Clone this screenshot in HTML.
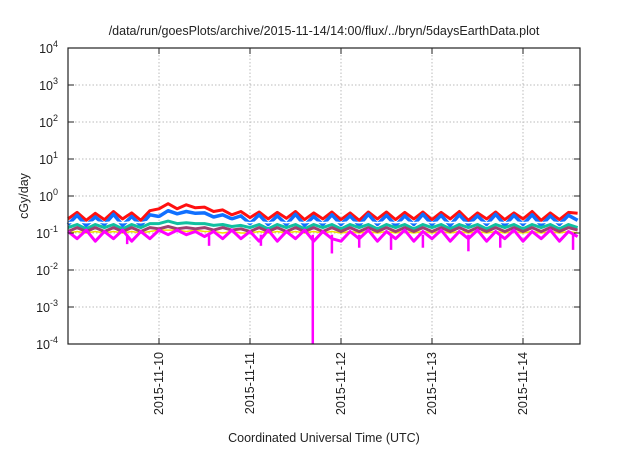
<!DOCTYPE html>
<html><head><meta charset="utf-8"><style>
body{margin:0;background:#fff;}
svg text{font-family:"Liberation Sans",sans-serif;fill:#222;}
</style></head><body>
<svg id="chart" width="640" height="448" viewBox="0 0 640 448" xmlns="http://www.w3.org/2000/svg">
<text x="324" y="35" font-size="12.5" text-anchor="middle">/data/run/goesPlots/archive/2015-11-14/14:00/flux/../bryn/5daysEarthData.plot</text>
<g id="grid"></g>
<g id="series"></g>
<rect x="68" y="48" width="512" height="296" fill="none" stroke="#222" stroke-width="1.2"/>
<g id="axes"></g>
<text transform="translate(28,196) rotate(-90)" font-size="12.5" text-anchor="middle">cGy/day</text>
<text x="324" y="442" font-size="12.5" text-anchor="middle">Coordinated Universal Time (UTC)</text>
</svg>
<script>
const xTickLabels=["2015-11-10","2015-11-11","2015-11-12","2015-11-13","2015-11-14"];
const xTickDays=[1,2,3,4,5];
const yTickExps=[-4,-3,-2,-1,0,1,2,3,4];
const sampleStep=0.1;
const red=[0.24,0.36,0.22,0.34,0.23,0.38,0.24,0.35,0.22,0.40,0.45,0.62,0.45,0.58,0.48,0.50,0.38,0.42,0.31,0.38,0.26,0.37,0.24,0.36,0.25,0.38,0.23,0.35,0.24,0.37,0.23,0.35,0.22,0.37,0.24,0.37,0.23,0.36,0.24,0.37,0.23,0.36,0.24,0.38,0.22,0.35,0.24,0.37,0.23,0.35,0.24,0.38,0.22,0.35,0.23,0.36,0.34];
const blue=[0.17,0.30,0.16,0.27,0.17,0.32,0.16,0.28,0.16,0.31,0.28,0.40,0.33,0.38,0.34,0.35,0.27,0.31,0.24,0.29,0.18,0.31,0.17,0.29,0.17,0.32,0.16,0.28,0.17,0.31,0.17,0.29,0.16,0.32,0.17,0.30,0.16,0.29,0.17,0.32,0.17,0.30,0.16,0.31,0.17,0.29,0.17,0.32,0.16,0.30,0.17,0.31,0.16,0.29,0.17,0.30,0.22];
const white=[0.19,0.20,0.19,0.20,0.19,0.20,0.19,0.20,0.19,0.21,0.24,0.28,0.27,0.26,0.26,0.24,0.23,0.22,0.21,0.20,0.19,0.20,0.19,0.20,0.19,0.20,0.19,0.20,0.19,0.20,0.19,0.20,0.19,0.20,0.19,0.20,0.19,0.20,0.19,0.20,0.19,0.20,0.19,0.20,0.19,0.20,0.19,0.20,0.19,0.20,0.19,0.20,0.19,0.20,0.19,0.20,0.19];
const green=[0.14,0.17,0.13,0.17,0.14,0.17,0.13,0.17,0.14,0.18,0.18,0.21,0.18,0.19,0.18,0.18,0.16,0.17,0.15,0.16,0.14,0.17,0.13,0.17,0.14,0.17,0.13,0.17,0.14,0.17,0.13,0.17,0.14,0.17,0.13,0.17,0.14,0.17,0.13,0.17,0.14,0.17,0.13,0.17,0.14,0.17,0.13,0.17,0.14,0.17,0.13,0.17,0.14,0.17,0.13,0.17,0.14];
const yellow=[0.10,0.11,0.10,0.11,0.10,0.11,0.10,0.11,0.10,0.11,0.12,0.12,0.12,0.11,0.12,0.11,0.11,0.10,0.11,0.10,0.10,0.11,0.10,0.11,0.10,0.11,0.10,0.11,0.10,0.11,0.10,0.11,0.10,0.11,0.10,0.11,0.10,0.11,0.10,0.11,0.10,0.11,0.10,0.11,0.10,0.11,0.10,0.11,0.10,0.11,0.10,0.11,0.10,0.11,0.10,0.11,0.10];
const maroon=[0.11,0.14,0.11,0.14,0.11,0.14,0.11,0.14,0.11,0.14,0.13,0.15,0.13,0.14,0.13,0.14,0.12,0.14,0.12,0.13,0.11,0.14,0.11,0.14,0.11,0.14,0.11,0.14,0.11,0.14,0.11,0.14,0.11,0.14,0.11,0.14,0.11,0.14,0.11,0.14,0.11,0.14,0.11,0.14,0.11,0.14,0.11,0.14,0.11,0.14,0.11,0.14,0.11,0.14,0.11,0.14,0.12];
const magenta=[0.11,0.07,0.12,0.06,0.11,0.07,0.12,0.06,0.11,0.07,0.12,0.09,0.12,0.09,0.11,0.08,0.11,0.07,0.12,0.07,0.11,0.06,0.12,0.06,0.11,0.07,0.12,0.06,0.11,0.07,0.06,0.11,0.07,0.12,0.06,0.11,0.07,0.12,0.06,0.11,0.07,0.12,0.06,0.11,0.07,0.12,0.06,0.11,0.07,0.12,0.06,0.11,0.07,0.12,0.06,0.11,0.08];
const dipDays=[0.65,1.55,2.12,2.69,2.9,3.2,3.55,3.9,4.4,4.75,5.55];
const dipValues=[0.05,0.045,0.045,0.0001,0.028,0.04,0.035,0.04,0.032,0.04,0.035];

const L=68,R=580,T=48,B=344,dayPx=91;
const xS=d=>L+d*dayPx;
const yS=v=>196-37*Math.log10(v);
const NS="http://www.w3.org/2000/svg";
function mk(tag,parent){const e=document.createElementNS(NS,tag);parent.appendChild(e);return e;}
const grid=document.getElementById('grid'),axes=document.getElementById('axes'),ser=document.getElementById('series');
yTickExps.forEach(e=>{
  const y=yS(Math.pow(10,e));
  if(e>-4&&e<4){const g=mk('line',grid);
    
    
    g.setAttribute('x1',L);g.setAttribute('x2',R);g.setAttribute('y1',y);g.setAttribute('y2',y);g.setAttribute('stroke','#bbb');g.setAttribute('stroke-dasharray','1.5,2');}
  const t=mk('text',axes);
  
  
  t.setAttribute('x',58);t.setAttribute('y',y+5);t.setAttribute('font-size','12.5');t.setAttribute('text-anchor','end');
  t.innerHTML='10<tspan dy="-6" font-size="9">'+e+'</tspan>';
  [L,R].forEach((x,i)=>{const k=mk('line',axes);
    
    
    k.setAttribute('x1',x);k.setAttribute('x2',i?x-6:x+6);k.setAttribute('y1',y);k.setAttribute('y2',y);k.setAttribute('stroke','#222');});
});
xTickDays.forEach((d,i)=>{
  const x=xS(d);
  const g=mk('line',grid);
  
  
  g.setAttribute('x1',x);g.setAttribute('x2',x);g.setAttribute('y1',T);g.setAttribute('y2',B);g.setAttribute('stroke','#bbb');g.setAttribute('stroke-dasharray','1.5,2');
  [B,T].forEach((y,j)=>{const k=mk('line',axes);
    
    
    k.setAttribute('x1',x);k.setAttribute('x2',x);k.setAttribute('y1',y);k.setAttribute('y2',j?y+6:y-6);k.setAttribute('stroke','#222');});
  const t=mk('text',axes);
  
  
  t.setAttribute('transform','translate('+(x+4)+',352) rotate(-90)');t.setAttribute('font-size','12.5');t.setAttribute('text-anchor','end');
  t.textContent=xTickLabels[i];
});
function line(arr,color,name,w){
  const p=mk('polyline',ser);
  
  
  p.setAttribute('points',arr.map((v,i)=>xS(i*sampleStep).toFixed(1)+','+yS(v).toFixed(1)).join(' '));
  p.setAttribute('fill','none');p.setAttribute('stroke',color);p.setAttribute('stroke-width',w);p.setAttribute('stroke-linejoin','round');
}
line(red,'#ff1010','series-red',3);
line(blue,'#1070ff','series-blue',3.5);
line(white,'#ffffff','series-white',1.5);
line(green,'#10c0a0','series-green',3);
line(yellow,'#f0e000','series-yellow',1.5);
line(maroon,'#a04070','series-maroon',3);
line(magenta,'#ff00ff','series-magenta',3);
dipDays.forEach((d,i)=>{
  const k=mk('line',ser);
  
  
  const x=xS(d);
  k.setAttribute('x1',x);k.setAttribute('x2',x);k.setAttribute('y1',yS(0.09));k.setAttribute('y2',Math.min(B,yS(dipValues[i])));
  k.setAttribute('stroke','#ff00ff');k.setAttribute('stroke-width',2.5);
});
</script>
</body></html>
